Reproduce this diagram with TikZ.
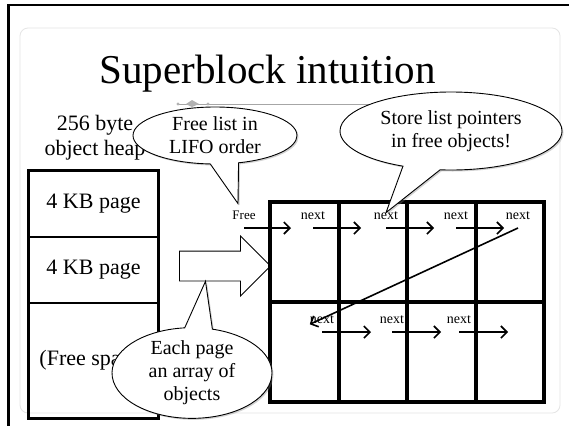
\documentclass[tikz,border=0pt]{standalone}
\usepackage{fontspec}
\setmainfont{Liberation Serif}
\usetikzlibrary{arrows.meta,shapes.arrows,shapes.callouts,shadows}

\begin{document}
\begin{tikzpicture}[
    x=1pt, y=-1pt,
    page/.style={draw, line width=1.2pt, minimum width=129pt, inner sep=0pt, font=\fontsize{22}{25}\selectfont},
    cell/.style={draw, line width=4pt, minimum width=68.5pt, minimum height=100pt, inner sep=0pt},
    lbl/.style={inner sep=0pt, text height=7pt, text depth=8pt, anchor=south, font=\fontsize{14}{16}\selectfont},
    ptr/.style={-{Straight Barb[length=6pt,width=12pt]}, line width=1.6pt},
    bubble/.style={ellipse callout, draw, fill=white, line width=0.9pt, inner sep=0pt, callout pointer arc=20,
        align=center, font=\fontsize{20}{23}\selectfont,
        drop shadow={shadow xshift=1.5pt, shadow yshift=-1.5pt, opacity=0.35}}
]
\useasboundingbox (0,0) rectangle (569,426);
\fill[white] (0,0) rectangle (569,426);
\draw[gray!20, line width=0.8pt, rounded corners=8pt] (20,28) rectangle (560,413);
\draw[line width=2.5pt] (569,5) -- (8.5,5) -- (8.5,426);

\node[anchor=base, font=\fontsize{41}{49}\selectfont] (title) at (267.5,83) {Superblock intuition};
\draw[gray!70, line width=0.8pt] (178,104) -- (430,104);
\fill[gray!60] (178,104) circle (1.6pt) (208,104) circle (1.6pt)
    (186,104) -- (192,100) -- (199,104) -- (192,107) -- cycle;

\node[align=center, font=\fontsize{22}{25}\selectfont] (heaplbl) at (95,137.5) {256 byte\\object heap};

% heap pages
\node[page, minimum height=66pt] (pg1) at (93.5,204) {4 KB page};
\node[page, minimum height=66pt] (pg2) at (93.5,270) {4 KB page};
\node[page, minimum height=115pt] (freesp) at (93.5,360.5) {(Free space)};
\draw[line width=3pt] (pg1.north west) rectangle (freesp.south east);

\node[draw, single arrow, single arrow head extend=15pt, minimum height=91pt,
    inner sep=0pt, text height=14.5pt, text depth=14.5pt, line width=0.8pt, fill=white] (blk) at (217.5,266) {};

% superblock of objects
\foreach \r in {1,2}
  \foreach \c in {1,...,4}
    \node[cell] (c\r\c) at ({270+68.5*(\c-0.5)},{202+100*(\r-0.5)}) {};

\node[lbl, font=\fontsize{13}{15}\selectfont] (freelbl) at (244,228) {Free};
\node[lbl] (n1) at (313,228) {next};
\node[lbl] (n2) at (386,228) {next};
\node[lbl] (n3) at (456,228) {next};
\node[lbl] (n4) at (518,228) {next};
\node[lbl] (m1) at (322,332) {next};
\node[lbl] (m2) at (392,332) {next};
\node[lbl] (m3) at (459,332) {next};

\draw[ptr] (freelbl.south) -- ++(47,0);
\foreach \i in {1,2,3}
  \draw[ptr] (n\i.south) -- ++(48,0);
\draw[ptr] (n4.south) -- (m1.west);
\foreach \i in {1,2,3}
  \draw[ptr] (m\i.south) -- ++(49,0);

% callouts
\node[bubble, minimum width=164pt, minimum height=57pt,
    callout absolute pointer={([shift={(-6,-9)}]freelbl.north)}] (freebub) at (215,135.5) {Free list in\\LIFO order};
\node[bubble, minimum width=222pt, minimum height=78pt,
    callout absolute pointer={(n2.north)}] (storebub) at (451,131) {Store list pointers\\in free objects!};
\node[bubble, minimum width=160pt, minimum height=80pt,
    callout absolute pointer={([xshift=-12pt]blk.south)}] (eachbub) at (192,373) {Each page\\an array of\\objects};
\end{tikzpicture}
\end{document}
